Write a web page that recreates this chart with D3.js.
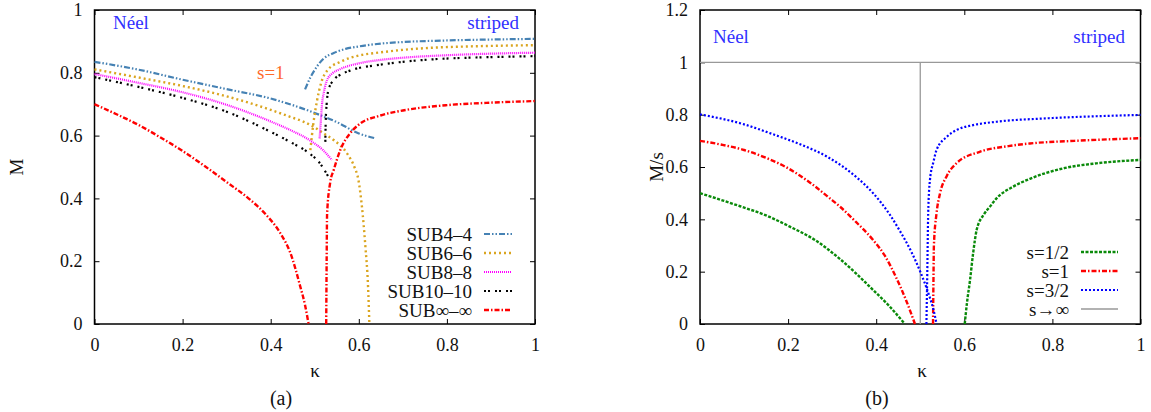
<!DOCTYPE html>
<html><head><meta charset="utf-8">
<script src="https://cdn.jsdelivr.net/npm/d3@7"></script>
<style>
body{margin:0;background:#fff;}
svg text{font-family:"Liberation Serif","Times New Roman","DejaVu Serif",serif !important;}
</style></head>
<body><svg id="c" width="1151" height="412" font-family="Liberation Serif, Times New Roman, DejaVu Serif, serif"></svg>
<script>
// ---------- Data (panel a) ----------
const kTicksA = [0, 0.2, 0.4, 0.6, 0.8, 1];
const mTicksA = [0, 0.2, 0.4, 0.6, 0.8, 1];
const seriesA = ["SUB4\u20134", "SUB6\u20136", "SUB8\u20138", "SUB10\u201310", "SUB\u221e\u2013\u221e"];

const sub4_neel_k = [0, 0.1, 0.2, 0.3, 0.4, 0.45, 0.5, 0.55, 0.6, 0.639];
const sub4_neel_m = [0.835, 0.81, 0.778, 0.748, 0.718, 0.697, 0.672, 0.643, 0.607, 0.591];
const sub4_str_k = [0.478, 0.49, 0.505, 0.52, 0.543, 0.57, 0.6, 0.65, 0.7, 0.8, 0.9, 1.0];
const sub4_str_m = [0.747, 0.785, 0.82, 0.845, 0.863, 0.876, 0.884, 0.893, 0.898, 0.903, 0.906, 0.908];

const sub6_neel_k = [0, 0.1, 0.2, 0.3, 0.4, 0.444, 0.475, 0.5, 0.52, 0.543, 0.573, 0.59, 0.599, 0.607, 0.615, 0.621, 0.624];
const sub6_neel_m = [0.811, 0.785, 0.758, 0.725, 0.682, 0.66, 0.644, 0.626, 0.607, 0.586, 0.544, 0.5, 0.46, 0.375, 0.246, 0.119, 0];
const sub6_str_k = [0.49, 0.497, 0.505, 0.515, 0.53, 0.558, 0.6, 0.649, 0.7, 0.769, 0.85, 1.0];
const sub6_str_m = [0.554, 0.64, 0.71, 0.77, 0.81, 0.835, 0.855, 0.865, 0.873, 0.88, 0.884, 0.888];

const sub8_neel_k = [0, 0.1, 0.2, 0.3, 0.4, 0.444, 0.49, 0.52, 0.539];
const sub8_neel_m = [0.796, 0.768, 0.738, 0.698, 0.645, 0.618, 0.584, 0.552, 0.522];
const sub8_str_k = [0.511, 0.514, 0.516, 0.521, 0.528, 0.54, 0.558, 0.6, 0.649, 0.7, 0.8, 0.9, 1.0];
const sub8_str_m = [0.591, 0.65, 0.692, 0.74, 0.777, 0.798, 0.812, 0.83, 0.841, 0.848, 0.856, 0.861, 0.864];

const sub10_neel_k = [0, 0.1, 0.2, 0.3, 0.4, 0.444, 0.482, 0.51, 0.531];
const sub10_neel_m = [0.786, 0.755, 0.72, 0.676, 0.612, 0.58, 0.549, 0.515, 0.469];
const sub10_str_k = [0.524, 0.525, 0.527, 0.531, 0.543, 0.56, 0.58, 0.649, 0.7, 0.769, 0.9, 1.0];
const sub10_str_m = [0.58, 0.65, 0.70, 0.745, 0.777, 0.795, 0.807, 0.826, 0.835, 0.843, 0.85, 0.853];

const subinf_neel_k = [0, 0.05, 0.1, 0.15, 0.2, 0.25, 0.3, 0.354, 0.39, 0.422, 0.445, 0.467, 0.478, 0.486];
const subinf_neel_m = [0.70, 0.668, 0.634, 0.594, 0.551, 0.503, 0.452, 0.395, 0.347, 0.289, 0.225, 0.12, 0.06, 0];
const subinf_str_k = [0.526, 0.527, 0.528, 0.535, 0.543, 0.558, 0.58, 0.6, 0.649, 0.7, 0.8, 0.9, 1.0];
const subinf_str_m = [0, 0.2, 0.35, 0.45, 0.49, 0.554, 0.607, 0.635, 0.664, 0.68, 0.697, 0.705, 0.71];

// ---------- Data (panel b) ----------
const kTicksB = [0, 0.2, 0.4, 0.6, 0.8, 1];
const vTicksB = [0, 0.2, 0.4, 0.6, 0.8, 1, 1.2];
const seriesB = ["s=1/2", "s=1", "s=3/2", "s\u2192\u221e"];

const s12_neel_k = [0, 0.091, 0.15, 0.204, 0.26, 0.318, 0.393, 0.43, 0.465];
const s12_neel_v = [0.5, 0.45, 0.415, 0.372, 0.322, 0.248, 0.13, 0.068, 0];
const s12_str_k = [0.601, 0.606, 0.613, 0.62, 0.628, 0.645, 0.658, 0.673, 0.711, 0.749, 0.825, 0.9, 1.0];
const s12_str_v = [0, 0.08, 0.168, 0.27, 0.359, 0.42, 0.448, 0.48, 0.525, 0.555, 0.595, 0.614, 0.627];

const s1_neel_k = [0, 0.05, 0.1, 0.15, 0.2, 0.25, 0.295, 0.318, 0.354, 0.393, 0.42, 0.446, 0.468, 0.488];
const s1_neel_v = [0.70, 0.685, 0.665, 0.635, 0.595, 0.54, 0.48, 0.448, 0.39, 0.321, 0.26, 0.175, 0.09, 0];
const s1_str_k = [0.529, 0.53, 0.531, 0.537, 0.545, 0.56, 0.582, 0.635, 0.7, 0.749, 0.85, 1.0];
const s1_str_v = [0, 0.17, 0.3, 0.423, 0.5, 0.565, 0.614, 0.658, 0.68, 0.69, 0.70, 0.71];

const s32_neel_k = [0, 0.1, 0.166, 0.23, 0.288, 0.356, 0.393, 0.43, 0.454, 0.48, 0.5, 0.52, 0.53, 0.537];
const s32_neel_v = [0.801, 0.763, 0.725, 0.685, 0.64, 0.56, 0.5, 0.42, 0.355, 0.275, 0.2, 0.11, 0.055, 0];
const s32_str_k = [0.514, 0.516, 0.518, 0.522, 0.53, 0.537, 0.56, 0.582, 0.62, 0.673, 0.787, 0.9, 1.0];
const s32_str_v = [0, 0.2, 0.423, 0.55, 0.62, 0.665, 0.715, 0.741, 0.76, 0.773, 0.786, 0.794, 0.799];

const sinf_k = [0, 0.5, 0.5, 0.5, 1];
const sinf_v = [1, 1, 0, 1, 1];

// ---------- Drawing ----------
const FONT = "Liberation Serif, Times New Roman, DejaVu Serif, serif";
const svg = d3.select("#c");
const FS = 18, FL = 19;

function zip(ks, vs){ return ks.map((k,i)=>[k, vs[i]]); }

function panel(cfg){
  const x = d3.scaleLinear().domain([0,1]).range([cfg.x0, cfg.x1]);
  const y = d3.scaleLinear().domain([0,cfg.ymax]).range([cfg.y0, cfg.y1]);
  const g = svg.append("g");
  const ax = g.append("g").attr("transform",`translate(0,${cfg.y0})`)
    .call(d3.axisBottom(x).tickValues(cfg.xt).tickSize(-5).tickPadding(14).tickFormat(d=>d3.format("")(d)));
  const axT = g.append("g").attr("transform",`translate(0,${cfg.y1})`)
    .call(d3.axisTop(x).tickValues(cfg.xt).tickSize(-5).tickFormat(""));
  const ay = g.append("g").attr("transform",`translate(${cfg.x0},0)`)
    .call(d3.axisLeft(y).tickValues(cfg.yt).tickSize(-5).tickPadding(12).tickFormat(d=>d3.format("")(d)));
  const ayR = g.append("g").attr("transform",`translate(${cfg.x1},0)`)
    .call(d3.axisRight(y).tickValues(cfg.yt).tickSize(-5).tickFormat(""));
  [ax,axT,ay,ayR].forEach(a=>{
    a.attr("font-family",FONT);
    a.select(".domain").remove();
    a.selectAll(".tick line").attr("stroke","#000").attr("stroke-width",1);
    a.selectAll("text").attr("font-size",FS).attr("fill","#111").attr("font-family",FONT);
  });
  ax.selectAll("text").attr("dy","0.71em");
  g.append("rect").attr("x",cfg.x0).attr("y",cfg.y1).attr("width",cfg.x1-cfg.x0).attr("height",cfg.y0-cfg.y1)
    .attr("fill","none").attr("stroke","#000").attr("stroke-width",1.5);
  return {g,x,y};
}

const A = panel({x0:94.5, x1:535, y0:324, y1:10, ymax:1, xt:kTicksA, yt:mTicksA});
const B = panel({x0:700, x1:1140.5, y0:324, y1:10, ymax:1.2, xt:kTicksB, yt:vTicksB});

function drawLine(P, data, st){
  const line = d3.line().x(d=>P.x(d[0])).y(d=>P.y(d[1])).curve(d3.curveMonotoneX);
  P.g.append("path").datum(data).attr("d",line).attr("fill","none")
    .attr("stroke",st.c).attr("stroke-width",st.w).attr("stroke-dasharray",st.d||null);
}

const stA = [
  {c:"#4682b4", w:2.2, d:"6,2,1.5,2,1.5,2"},
  {c:"#daa520", w:2.4, d:"2,3"},
  {c:"#ff00ff", w:2.2, d:"1,1"},
  {c:"#000000", w:2.2, d:"2,2,2,5"},
  {c:"#ff0000", w:2.4, d:"5,2,1.5,2"}
];
const dataA = [
  [zip(sub4_neel_k, sub4_neel_m), zip(sub4_str_k, sub4_str_m)],
  [zip(sub6_neel_k, sub6_neel_m), zip(sub6_str_k, sub6_str_m)],
  [zip(sub8_neel_k, sub8_neel_m), zip(sub8_str_k, sub8_str_m)],
  [zip(sub10_neel_k, sub10_neel_m), zip(sub10_str_k, sub10_str_m)],
  [zip(subinf_neel_k, subinf_neel_m), zip(subinf_str_k, subinf_str_m)]
];
dataA.forEach((br,i)=>br.forEach(d=>drawLine(A,d,stA[i])));

const stB = [
  {c:"#0a8a0a", w:2.4, d:"3,1.5"},
  {c:"#ff0000", w:2.4, d:"5,2,1.5,2"},
  {c:"#0000ff", w:2.2, d:"2,2"},
  {c:"#999999", w:1.3, d:null}
];
const dataB = [
  [zip(s12_neel_k, s12_neel_v), zip(s12_str_k, s12_str_v)],
  [zip(s1_neel_k, s1_neel_v), zip(s1_str_k, s1_str_v)],
  [zip(s32_neel_k, s32_neel_v), zip(s32_str_k, s32_str_v)],
  []
];
B.g.append("path").datum(zip(sinf_k, sinf_v))
  .attr("d", d3.line().x(d=>B.x(d[0])).y(d=>B.y(d[1])))
  .attr("fill","none").attr("stroke",stB[3].c).attr("stroke-width",stB[3].w);
dataB.forEach((br,i)=>br.forEach(d=>drawLine(B,d,stB[i])));

function legend(names, styles, tx, l0, l1, y0, dy){
  names.forEach((n,i)=>{
    const yy = y0 + i*dy;
    svg.append("text").attr("x",tx).attr("y",yy).attr("dy","0.35em").attr("text-anchor","end")
      .attr("font-family",FONT).attr("font-size",FL).attr("fill","#111").text(n);
    svg.append("line").attr("x1",l0).attr("x2",l1).attr("y1",yy).attr("y2",yy)
      .attr("stroke",styles[i].c).attr("stroke-width",styles[i].w).attr("stroke-dasharray",styles[i].d||null);
  });
}
legend(seriesA, stA, 472, 484, 512, 234, 19);
legend(seriesB, stB, 1069, 1081, 1118, 252, 19);

function txt(x,y,s,opt){
  const t = svg.append("text").attr("x",x).attr("y",y).attr("font-size",opt.fs||FL)
    .attr("font-family",FONT)
    .attr("fill",opt.c||"#111").attr("text-anchor",opt.a||"start").text(s);
  if(opt.rot) t.attr("transform",`rotate(-90,${x},${y})`);
  return t;
}
txt(113,29,"Néel",{c:"#3030ff"});
txt(519,29,"striped",{c:"#3030ff",a:"end"});
txt(257,79,"s=1",{c:"#ff6a2a"});
txt(713,43,"Néel",{c:"#3030ff"});
txt(1125,43,"striped",{c:"#3030ff",a:"end"});

txt(23,167,"M",{a:"middle",rot:true});
txt(663,167,"M/s",{a:"middle",rot:true});
txt(315,377,"κ",{a:"middle"});
txt(922,377,"κ",{a:"middle"});
txt(281,405,"(a)",{a:"middle",fs:20});
txt(877,405,"(b)",{a:"middle",fs:20});
</script></body></html>
